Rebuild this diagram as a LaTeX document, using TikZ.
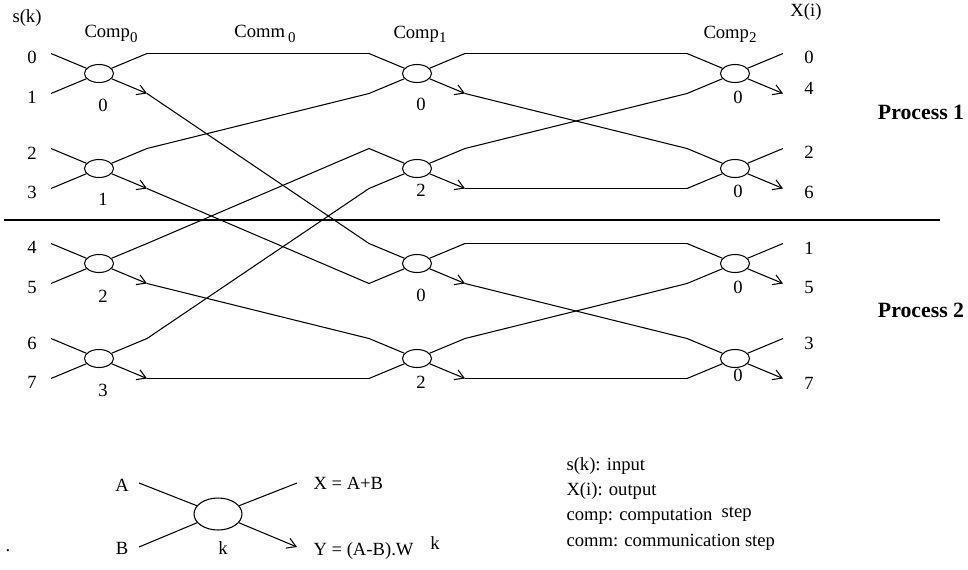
\documentclass[tikz,border=0pt]{standalone}
\usepackage{fontspec}
\setmainfont{Liberation Serif}
\usetikzlibrary{shapes.geometric,arrows.meta}

\tikzset{
  bfly/.style={draw,ellipse,line width=0.6pt,minimum width=0.58cm,minimum height=0.36cm,inner sep=0pt},
  lbl/.style={font=\fontsize{10.6}{12}\selectfont,inner sep=0pt},
  proc/.style={font=\fontsize{12.4}{14}\selectfont\bfseries,inner sep=0pt},
  arr/.style={-{Straight Barb[length=5pt,width=6pt]}},
}
\newcommand\low[1]{\raisebox{-0.5ex}{\fontsize{8.5}{9}\selectfont#1}}

\begin{document}
\begin{tikzpicture}[x=0.02cm,y=-0.02cm,line width=0.6pt]
    \useasboundingbox (0,0) rectangle (968,569);

    % one butterfly: name, x, y
    \def\bfly#1#2#3{%
        \node[bfly] (#1) at (#2,#3) {};
        \coordinate (#1iu) at (#2-48,#3-20);
        \coordinate (#1il) at (#2-48,#3+20);
        \coordinate (#1ou) at (#2+48,#3-20);
        \coordinate (#1ol) at (#2+48,#3+20);
        \draw (#1iu) -- (#1) (#1il) -- (#1) (#1) -- (#1ou);
        \draw[arr] (#1) -- (#1ol);
    }

    %butterflies:
    \bfly{a0}{99}{73.5}  \bfly{a1}{99}{168.5}  \bfly{a2}{99}{263.5}  \bfly{a3}{99}{358.5}
    \bfly{b0}{417}{73.5} \bfly{b1}{417}{168.5} \bfly{b2}{417}{263.5} \bfly{b3}{417}{358.5}
    \bfly{c0}{735}{73.5} \bfly{c1}{735}{168.5} \bfly{c2}{735}{263.5} \bfly{c3}{735}{358.5}

    %Comm 0:
    \draw (a0ou) -- (b0iu);  \draw (a0ol) -- (b2iu);
    \draw (a1ou) -- (b0il);  \draw (a1ol) -- (b2il);
    \draw (a2ou) -- (b1iu);  \draw (a2ol) -- (b3iu);
    \draw (a3ou) -- (b1il);  \draw (a3ol) -- (b3il);

    %Comm 1:
    \draw (b0ou) -- (c0iu);  \draw (b0ol) -- (c1iu);
    \draw (b1ou) -- (c0il);  \draw (b1ol) -- (c1il);
    \draw (b2ou) -- (c2iu);  \draw (b2ol) -- (c3iu);
    \draw (b3ou) -- (c2il);  \draw (b3ol) -- (c3il);

    %process border:
    \coordinate (pl) at (4,220);
    \coordinate (pr) at (940,220);
    \draw[line width=1.2pt] (pl) -- (pr);

    %titles:
    \node[lbl] (sk) at (27,18) {s(k)};
    \node[lbl] (xi) at (806,12) {X(i)};
    \node[lbl] (comp0) at (111,34) {Comp\low{0}};
    \node[lbl] (comm0) at (265,34) {Comm\,\low{0}};
    \node[lbl] (comp1) at (420,34) {Comp\low{1}};
    \node[lbl] (comp2) at (730,34) {Comp\low{2}};
    \node[proc] (p1) at (921,112) {Process 1};
    \node[proc] (p2) at (921,310) {Process 2};

    %inputs and outputs:
    \foreach \k/\y in {0/57,1/97,2/153,3/192,4/247,5/287,6/343,7/382}
        \node[lbl] (s\k) at (32,\y) {\k};
    \foreach \k/\i/\y in {0/0/57,1/4/88,2/2/152,3/6/192,4/1/248,5/5/287,6/3/343,7/7/383}
        \node[lbl] (x\k) at (809,\y) {\i};

    %twiddle numbers:
    \foreach \k/\y in {0/105,1/199,2/296,3/390}
        \node[lbl] (ka\k) at (103,\y) {\k};
    \foreach \n/\k/\y in {0/0/104,1/2/190,2/0/295,3/2/382}
        \node[lbl] (kb\n) at (421,\y) {\k};
    \foreach \n/\y in {0/97,1/191,2/287,3/375}
        \node[lbl] (kc\n) at (738,\y) {0};

    %legend butterfly:
    \node[bfly,minimum width=0.96cm,minimum height=0.64cm] (lg) at (218,514) {};
    \coordinate (lgiu) at (139,483);
    \coordinate (lgil) at (139,547);
    \coordinate (lgou) at (297,483);
    \coordinate (lgol) at (297,547);
    \draw (lgiu) -- (lg) (lgil) -- (lg) (lg) -- (lgou);
    \draw[arr] (lg) -- (lgol);
    \node[lbl] (la) at (122,485) {A};
    \node[lbl] (lb) at (122,548) {B};
    \node[lbl] (lk) at (223,548) {k};
    \node[lbl,anchor=west] (lx) at (313,483) {X = A+B};
    \node[lbl,anchor=west] (ly) at (313,548) {Y = (A-B).W\hspace{0.9em}\raisebox{0.8ex}{k}};
    \node[lbl] (dot) at (8,551) {.};

    %legend text:
    \node[lbl,anchor=west] (t1) at (566,466) {s(k): input};
    \node[lbl,anchor=west] (t2) at (566,491) {X(i): output};
    \node[lbl,anchor=west] (t3) at (566,516) {comp: computation\hspace{0.5em}\raisebox{0.3ex}{step}};
    \node[lbl,anchor=west] (t4) at (566,542) {comm: communication step};

\end{tikzpicture}
\end{document}
